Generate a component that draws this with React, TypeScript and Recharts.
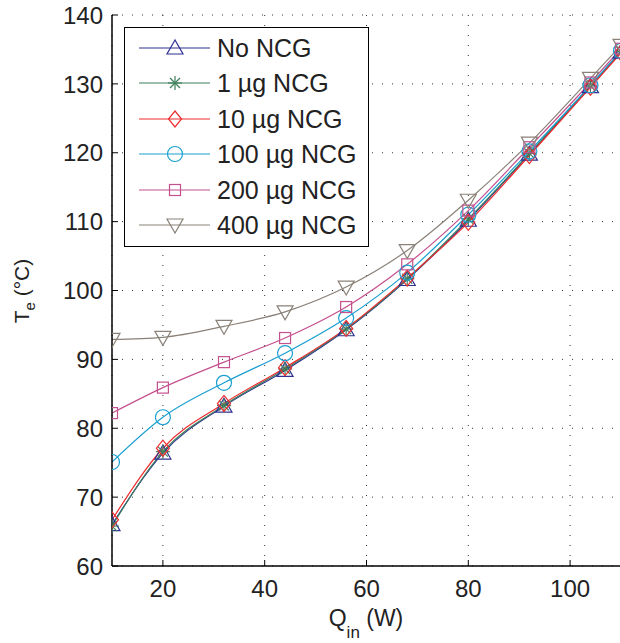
import { LineChart, Line, XAxis, YAxis, CartesianGrid, Legend } from "recharts";

const qIn = [10, 20, 32, 44, 56, 68, 80, 92, 104, 110];
const noNcg = [66.0, 76.4, 83.2, 88.4, 94.3, 101.6, 110.2, 119.8, 129.6, 134.6];
const ncg1 = [65.8, 76.6, 83.3, 88.6, 94.4, 101.7, 110.4, 119.9, 129.7, 134.7];
const ncg10 = [66.7, 77.1, 83.6, 88.8, 94.5, 101.8, 109.9, 119.6, 129.5, 134.5];
const ncg100 = [75.1, 81.6, 86.6, 90.9, 96.0, 102.6, 111.0, 120.2, 129.8, 134.8];
const ncg200 = [82.2, 85.9, 89.6, 93.1, 97.6, 103.8, 111.6, 120.8, 130.2, 135.1];
const ncg400 = [92.9, 93.2, 94.8, 96.9, 100.5, 105.8, 113.1, 121.4, 130.8, 135.6];

const xTicks = [20, 40, 60, 80, 100];
const yTicks = [60, 70, 80, 90, 100, 110, 120, 130, 140];

const series = [
  { key: "noNcg", name: "No NCG", color: "#2e3192", shape: "triUp" },
  { key: "ncg1", name: "1 \u00b5g NCG", color: "#3f7f5c", shape: "star" },
  { key: "ncg10", name: "10 \u00b5g NCG", color: "#ef2b2d", shape: "diamond" },
  { key: "ncg100", name: "100 \u00b5g NCG", color: "#1a9fd0", shape: "circle" },
  { key: "ncg200", name: "200 \u00b5g NCG", color: "#c4508e", shape: "square" },
  { key: "ncg400", name: "400 \u00b5g NCG", color: "#8a8178", shape: "triDown" },
];

const data = qIn.map((q, i) => ({
  q,
  noNcg: noNcg[i],
  ncg1: ncg1[i],
  ncg10: ncg10[i],
  ncg100: ncg100[i],
  ncg200: ncg200[i],
  ncg400: ncg400[i],
}));

const font = "'Liberation Sans', Arial, sans-serif";

function Marker({ shape, color, cx, cy }: { shape: string; color: string; cx: number; cy: number }) {
  const p = { fill: "none", stroke: color, strokeWidth: 1.2 };
  switch (shape) {
    case "triUp":
      return <polygon {...p} points={`${cx},${cy - 8} ${cx - 8},${cy + 6} ${cx + 8},${cy + 6}`} />;
    case "triDown":
      return <polygon {...p} points={`${cx},${cy + 8} ${cx - 8},${cy - 6} ${cx + 8},${cy - 6}`} />;
    case "diamond":
      return <polygon {...p} points={`${cx},${cy - 8} ${cx + 6.5},${cy} ${cx},${cy + 8} ${cx - 6.5},${cy}`} />;
    case "circle":
      return <circle {...p} cx={cx} cy={cy} r={7.5} />;
    case "square":
      return <rect {...p} x={cx - 5.5} y={cy - 5.5} width={11} height={11} />;
    default:
      return (
        <g {...p}>
          <line x1={cx} y1={cy - 7} x2={cx} y2={cy + 7} />
          <line x1={cx - 7} y1={cy} x2={cx + 7} y2={cy} />
          <line x1={cx - 5} y1={cy - 5} x2={cx + 5} y2={cy + 5} />
          <line x1={cx - 5} y1={cy + 5} x2={cx + 5} y2={cy - 5} />
        </g>
      );
  }
}

const makeDot = (shape: string, color: string) => (props: any) => (
  <Marker key={`${shape}-${props.index}`} shape={shape} color={color} cx={props.cx} cy={props.cy} />
);

const BottomTick = ({ x, y, payload }: any) => (
  <g>
    <line x1={x} y1={y} x2={x} y2={y - 6} stroke="#000" />
    <text x={x} y={y + 31} textAnchor="middle" fontSize={24} fontFamily={font} fill="#222">
      {payload.value}
    </text>
  </g>
);

const LeftTick = ({ x, y, payload }: any) => (
  <g>
    <line x1={x} y1={y} x2={x + 6} y2={y} stroke="#000" />
    <text x={x - 9} y={y} dy="0.36em" textAnchor="end" fontSize={24} fontFamily={font} fill="#222">
      {payload.value}
    </text>
  </g>
);

const TopTick = ({ x, y }: any) => <line x1={x} y1={y} x2={x} y2={y + 6} stroke="#000" />;

const LegendBox = () => (
  <div
    style={{
      position: "relative",
      width: 245,
      height: 220,
      boxSizing: "border-box",
      border: "1.5px solid #000",
      background: "#fff",
      fontFamily: font,
      fontSize: 25,
      color: "#222",
    }}
  >
    {series.map((s, i) => (
      <div
        key={s.key}
        style={{ position: "absolute", left: 0, top: 19.7 + i * 35.5 - 17, height: 34, display: "flex", alignItems: "center" }}
      >
        <svg width={92} height={34} style={{ display: "block" }}>
          <line x1={14} y1={17} x2={85} y2={17} stroke={s.color} strokeWidth={1.2} />
          <Marker shape={s.shape} color={s.color} cx={50} cy={17} />
        </svg>
        <span style={{ whiteSpace: "nowrap", lineHeight: "34px" }}>{s.name}</span>
      </div>
    ))}
  </div>
);

export default function App() {
  return (
    <div style={{ position: "absolute", left: 0, top: 0, width: 620, height: 643, overflow: "hidden", background: "#fff" }}>
      <LineChart width={630} height={643} data={data} margin={{ top: 15, right: 9, left: 0, bottom: 0 }}>
        <CartesianGrid stroke="#333" strokeDasharray="1 9" />
        <XAxis
          dataKey="q"
          type="number"
          domain={[10, 110]}
          ticks={xTicks}
          allowDataOverflow
          height={77}
          tickSize={0}
          tickMargin={0}
          tick={BottomTick}
          axisLine={{ stroke: "#000", strokeWidth: 1.5 }}
          label={{
            content: () => (
              <text x={366} y={626} textAnchor="middle" fontSize={23} fontFamily={font} fill="#222">
                Q<tspan dy={12} fontSize={17}>in</tspan>
                <tspan dy={-12}> (W)</tspan>
              </text>
            ),
          }}
        />
        <XAxis
          xAxisId="top"
          orientation="top"
          dataKey="q"
          type="number"
          domain={[10, 110]}
          ticks={xTicks}
          allowDataOverflow
          height={0}
          tickSize={0}
          tickMargin={0}
          tick={TopTick}
          axisLine={{ stroke: "#000", strokeWidth: 1.5 }}
        />
        <YAxis
          type="number"
          domain={[60, 140]}
          ticks={yTicks}
          allowDataOverflow
          width={112}
          tickSize={0}
          tickMargin={0}
          tick={LeftTick}
          axisLine={{ stroke: "#000", strokeWidth: 1.5 }}
          label={{
            content: () => (
              <text
                x={29}
                y={291}
                transform="rotate(-90 29 291)"
                textAnchor="middle"
                fontSize={21}
                fontFamily={font}
                fill="#222"
              >
                T<tspan dy={6} fontSize={15}>e</tspan>
                <tspan dy={-6}> (°C)</tspan>
              </text>
            ),
          }}
        />
        <Legend
          layout="vertical"
          align="center"
          verticalAlign="middle"
          wrapperStyle={{ left: 124, top: 27, width: "auto", height: "auto" }}
          content={() => <LegendBox />}
        />
        {series.map((s) => (
          <Line
            key={s.key}
            type="monotone"
            dataKey={s.key}
            name={s.name}
            stroke={s.color}
            strokeWidth={1.2}
            dot={makeDot(s.shape, s.color)}
            activeDot={false}
            isAnimationActive={false}
          />
        ))}
      </LineChart>
    </div>
  );
}
